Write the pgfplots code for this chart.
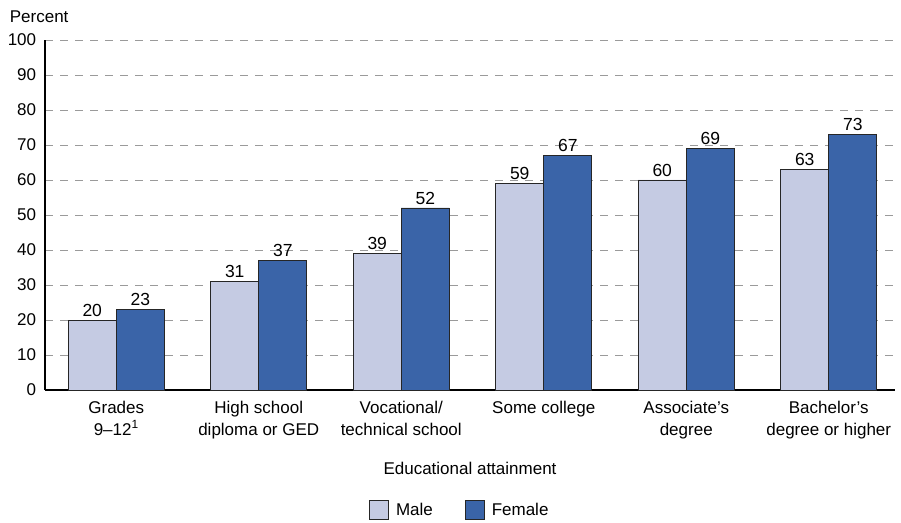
\documentclass[border=0pt]{standalone}
\usepackage{pgfplots}
\pgfplotsset{compat=1.18}
\usepackage{fontspec}
\setmainfont{Liberation Sans}
\definecolor{male}{HTML}{C5CBE3}
\definecolor{female}{HTML}{3A64A8}
\definecolor{gridgray}{HTML}{9A9A9A}
\begin{document}
\fontsize{17}{20}\selectfont
\begin{tikzpicture}
\begin{axis}[
  scale only axis,
  width=850pt, height=350pt,
  xmin=-0.5, xmax=5.465,
  ymin=0, ymax=100,
  ytick={0,10,...,100},
  xtick={0,1,2,3,4,5},
  xticklabels={{Grades\\9--12\textsuperscript{1}},{High school\\diploma or GED},{Vocational/\\technical school},{Some college},{Associate’s\\degree},{Bachelor’s\\degree or higher}},
  xticklabel style={align=center, font=\fontsize{17}{22}\selectfont, anchor=north, yshift=-5pt},
  yticklabel style={font=\fontsize{17}{20}\selectfont, xshift=-3pt},
  /pgf/number format/assume math mode=true,
  major tick length=0pt,
  axis x line*=bottom, axis y line*=left,
  axis line style={line width=1.2pt, black, -},
  ymajorgrids,
  grid style={gridgray, line width=0.9pt, dash pattern=on 8pt off 7pt},
  xlabel={Educational attainment},
  xlabel style={font=\fontsize{17}{20}\selectfont, yshift=-12pt},
  ybar, bar width=0.337,
  nodes near coords,
  nodes near coords style={font=\fontsize{17.5}{20}\selectfont, inner sep=3pt},
  every node near coord/.append style={/pgf/number format/assume math mode=true},
  legend style={at={(0.488,-0.343)}, anchor=center, draw=none, legend columns=2,
    font=\fontsize{17}{20}\selectfont,
    /tikz/every odd column/.style={column sep=5pt},
    /tikz/every even column/.style={column sep=30pt}},
  legend image code/.code={\draw[#1, line width=0.9pt] (0pt,-9pt) rectangle (19pt,10pt);},
  clip=false,
]
\addplot[draw=black!85, fill=male, line width=0.9pt, bar shift=-0.1685] coordinates {(0,20) (1,31) (2,39) (3,59) (4,60) (5,63)};
\addplot[draw=black!85, fill=female, line width=0.9pt, bar shift=0.1685] coordinates {(0,23) (1,37) (2,52) (3,67) (4,69) (5,73)};
\legend{Male, Female}
\node[anchor=west, font=\fontsize{17}{20}\selectfont] at ([xshift=-41pt,yshift=23pt]rel axis cs:0,1) {Percent};
\path ([xshift=-45pt,yshift=40pt]rel axis cs:0,1) -- ([xshift=6pt,yshift=-130pt]rel axis cs:1,0);
\end{axis}
\end{tikzpicture}
\end{document}
